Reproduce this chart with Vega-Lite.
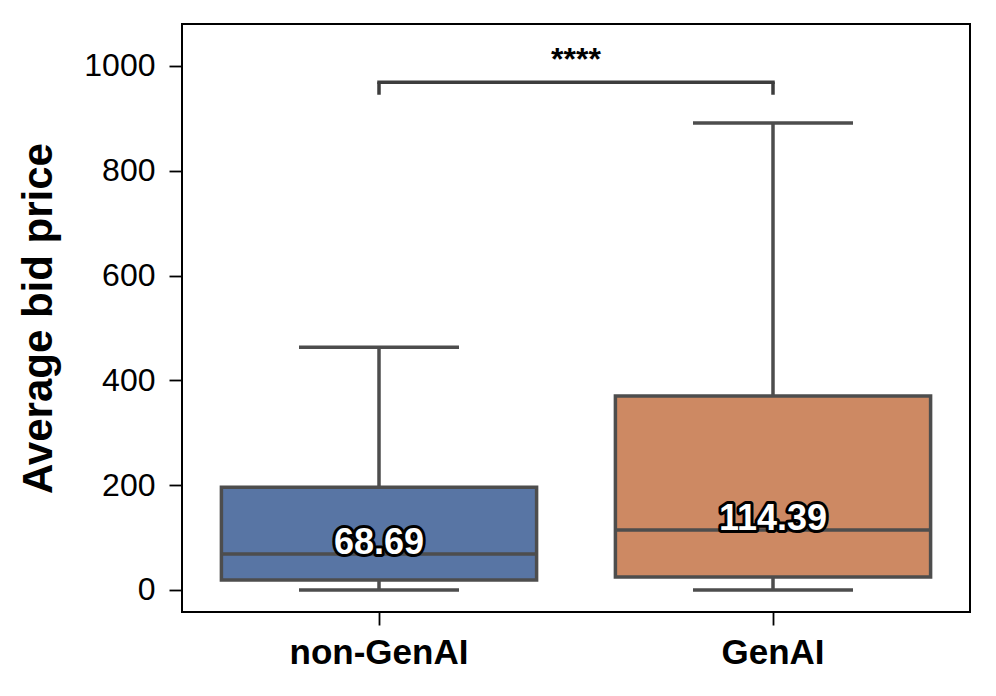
{
  "$schema": "https://vega.github.io/schema/vega-lite/v6.json",
  "width": 788,
  "height": 588,
  "autosize": {"type": "none"},
  "padding": {"left": 182, "top": 24, "right": 26, "bottom": 84},
  "background": "white",
  "config": {
    "font": "Liberation Sans",
    "view": {"stroke": "black", "strokeWidth": 2},
    "axis": {"grid": false, "domain": false, "labelColor": "black", "tickColor": "black", "tickSize": 13, "tickWidth": 1.8, "labelFont": "Liberation Sans", "titleFont": "Liberation Sans", "titleColor": "black"}
  },
  "datasets": {
    "boxes": [
      {"group": "non-GenAI", "lower": 0, "q1": 19, "median": 68.69, "q3": 196, "upper": 463, "label": "68.69"},
      {"group": "GenAI", "lower": 0, "q1": 25, "median": 114.39, "q3": 370, "upper": 891, "label": "114.39"}
    ],
    "bracket": [
      {"from": "non-GenAI", "to": "GenAI", "y": 969}
    ],
    "bracketEnds": [
      {"group": "non-GenAI", "y1": 945, "y2": 969},
      {"group": "GenAI", "y1": 945, "y2": 969}
    ],
    "sig": [
      {"pos": 1, "y": 1012, "text": "****"}
    ]
  },
  "resolve": {"scale": {"x": "independent"}},
  "layer": [
    {
      "encoding": {
        "x": {"field": "group", "type": "nominal", "scale": {"domain": ["non-GenAI", "GenAI"], "paddingInner": 0, "paddingOuter": 0}, "axis": {"title": null, "labelAngle": 0, "labelFontSize": 35, "labelFontWeight": "bold", "labelPadding": 10}},
        "y": {"type": "quantitative", "scale": {"domain": [-42, 1080], "nice": false, "zero": false}, "axis": {"values": [0, 200, 400, 600, 800, 1000], "format": "d", "title": "Average bid price", "titleFontSize": 42, "titleFontWeight": "bold", "labelFontSize": 32, "labelPadding": 14, "titlePadding": 23}}
      },
      "layer": [
        {
          "data": {"name": "boxes"},
          "mark": {"type": "rule", "color": "#4d4d4d", "strokeWidth": 3.5},
          "encoding": {"y": {"field": "lower"}, "y2": {"field": "upper"}}
        },
        {
          "data": {"name": "boxes"},
          "mark": {"type": "bar", "width": {"band": 0.8}, "stroke": "#4d4d4d", "strokeWidth": 3.5},
          "encoding": {
            "y": {"field": "q1"},
            "y2": {"field": "q3"},
            "fill": {"field": "group", "type": "nominal", "scale": {"domain": ["non-GenAI", "GenAI"], "range": ["#5875a4", "#cd8963"]}, "legend": null}
          }
        },
        {
          "data": {"name": "boxes"},
          "mark": {"type": "tick", "orient": "horizontal", "size": 315, "thickness": 3.5, "color": "#4d4d4d", "opacity": 1},
          "encoding": {"y": {"field": "median"}}
        },
        {
          "data": {"name": "boxes"},
          "mark": {"type": "tick", "orient": "horizontal", "size": 160, "thickness": 3.5, "color": "#4d4d4d", "opacity": 1},
          "encoding": {"y": {"field": "lower"}}
        },
        {
          "data": {"name": "boxes"},
          "mark": {"type": "tick", "orient": "horizontal", "size": 160, "thickness": 3.5, "color": "#4d4d4d", "opacity": 1},
          "encoding": {"y": {"field": "upper"}}
        },
        {
          "data": {"name": "boxes"},
          "mark": {"type": "text", "fontSize": 36, "fontWeight": "bold", "baseline": "alphabetic", "align": "center", "dy": 0, "fill": "black", "stroke": "black", "strokeWidth": 6, "strokeJoin": "round"},
          "encoding": {"y": {"field": "median"}, "text": {"field": "label"}}
        },
        {
          "data": {"name": "boxes"},
          "mark": {"type": "text", "fontSize": 36, "fontWeight": "bold", "baseline": "alphabetic", "align": "center", "dy": 0, "fill": "white"},
          "encoding": {"y": {"field": "median"}, "text": {"field": "label"}}
        },
        {
          "data": {"name": "bracket"},
          "mark": {"type": "rule", "color": "#3d3d3d", "strokeWidth": 3.5, "strokeCap": "square"},
          "encoding": {"x": {"field": "from"}, "x2": {"field": "to"}, "y": {"field": "y"}}
        },
        {
          "data": {"name": "bracketEnds"},
          "mark": {"type": "rule", "color": "#3d3d3d", "strokeWidth": 3.5},
          "encoding": {"y": {"field": "y1"}, "y2": {"field": "y2"}}
        }
      ]
    },
    {
      "data": {"name": "sig"},
      "mark": {"type": "text", "fontSize": 32, "fontWeight": "bold", "baseline": "middle", "align": "center", "color": "black"},
      "encoding": {
        "x": {"field": "pos", "type": "quantitative", "scale": {"domain": [0, 2]}, "axis": null},
        "y": {"field": "y", "type": "quantitative"},
        "text": {"field": "text"}
      }
    }
  ]
}
